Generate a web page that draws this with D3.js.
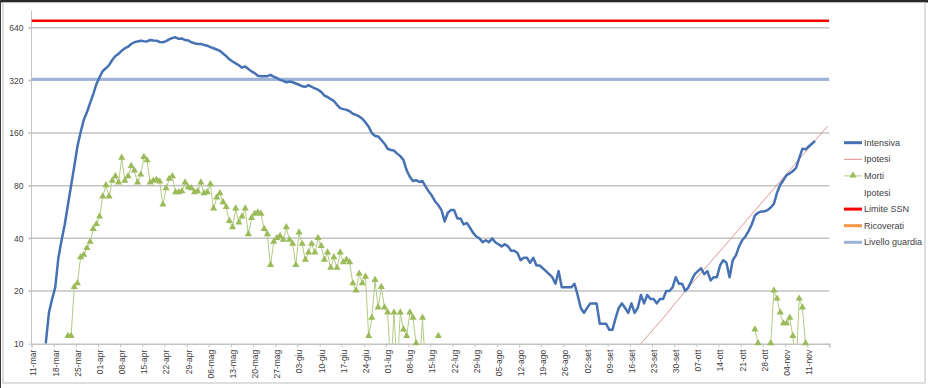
<!DOCTYPE html>
<html>
<head>
<meta charset="utf-8">
<script src="https://cdn.jsdelivr.net/npm/d3@7"></script>
<style>
  body { margin: 0; background: #fff; }
  svg { display: block; font-family: "Liberation Sans", Arial, sans-serif; }
</style>
</head>
<body>
<div id="chart"></div>
<script>
// AXIS RANGE
const axisStart = "2020-03-11";
const axisEnd = "2020-11-18";
const yMin = 10;
const yMax = 800;
const yTicks = [10, 20, 40, 80, 160, 320, 640];
const monthsIt = ["gen", "feb", "mar", "apr", "mag", "giu", "lug", "ago", "set", "ott", "nov", "dic"];

// SERIES (daily values)
const intensivaStart = "2020-03-15";
const intensivaValues = [
  10, 15, 18, 21, 31, 39, 48, 62, 80, 103,
  134, 161, 190, 210, 237, 267, 304, 333, 362, 375,
  391, 418, 441, 453, 473, 488, 498, 516, 528, 534,
  539, 536, 534, 544, 541, 539, 530, 528, 536, 549,
  559, 564, 553, 555, 544, 541, 528, 521, 516, 516,
  510, 505, 495, 488, 480, 472, 456, 440, 422, 410,
  400, 390, 378, 384, 372, 360, 352, 340, 338, 338,
  338, 344, 336, 330, 322, 318, 312, 315, 312, 307,
  302, 296, 294, 300, 294, 288, 283, 275, 262, 257,
  250, 244, 232, 222, 219, 217, 213, 206, 203, 199,
  193, 184, 174, 160, 154, 153, 146, 139, 130, 128,
  127, 122, 118, 112, 98, 90, 85, 86, 84, 85,
  79, 74, 70, 65, 62, 58, 50, 56, 58, 58,
  52, 52, 48, 49, 46, 43, 41, 40, 38, 39,
  38, 40, 38, 37, 36, 37, 36, 34, 34, 33,
  30, 31, 31, 29, 31, 28, 28, 27, 26, 25,
  24, 22, 26, 21, 21, 21, 21, 22, 19, 16,
  15, 16, 17, 17, 17, 13, 13, 13, 12, 12,
  14, 16, 17, 16, 15, 17, 15, 16, 19, 17,
  19, 18, 18, 17, 18, 18, 20, 20, 21, 24,
  22, 22, 20, 21, 23, 25, 26, 27, 25, 26,
  23, 24, 24, 28, 30, 29, 24, 30, 32, 36,
  39, 41, 44, 48, 54, 56, 57, 57, 58, 60,
  63, 73, 81, 86, 92, 94, 97, 101, 115, 130,
  129, 134, 139, 144
];

const mortiSpringStart = "2020-03-22";
const mortiSpringValues = [
  11, 11, 21, 22, 31, 32, 35, 38, 45, 48,
  53, 69, 80, 69, 85, 90, 83, 115, 85, 90,
  103, 97, 83, 92, 116, 111, 83, 85, 86, 84,
  62, 77, 87, 90, 73, 73, 74, 83, 78, 77,
  73, 74, 83, 72, 73, 81, 59, 68, 72, 64,
  60, 50, 46, 59, 49, 53, 59, 42, 52, 55,
  56, 55, 45, 42, 28, 38, 40, 41, 39, 46,
  39, 37, 28, 43, 37, 30, 33, 37, 33, 40,
  36, 30, 33, 27, 31, 27, 33, 29, 30, 29,
  22, 20, 25, 22, 24, 11, 14, 23, 16, 21,
  16, 15, 7, 15, 7, 15, 12, 11, 15, 14,
  10, 7, 14, 7, null, null, null, 11
];

const mortiAutumnStart = "2020-10-25";
const mortiAutumnValues = [12, 10, null, null, null, 10, 20, 18, 15, 13, 13, 14, 11, 7, 18, 16, 10];

const ipotesiDates = ["2020-09-19", "2020-09-26", "2020-10-03", "2020-10-10", "2020-10-17",
  "2020-10-24", "2020-10-31", "2020-11-07", "2020-11-14", "2020-11-17"];
const ipotesiValues = [10, 14, 20, 28, 39, 55, 77, 108, 152, 175];

const limiteSSN = 700;
const livelloGuardia = 325;

const legendLabels = ["Intensiva", "Ipotesi", "Morti", "Ipotesi", "Limite SSN", "Ricoverati", "Livello guardia"];

// COLOURS
const blueClr = "#4672b3";
const ipotesiClr = "#dc8c88";
const mortiClr = "#9bbb59";
const mortiLineClr = "#b2cb84";
const redClr = "#ff0000";
const orangeClr = "#f79646";
const guardiaClr = "#9eb2d8";
const gridClr = "#c3c3c3";
const textClr = "#404040";

const w = 928;
const h = 388;
const plotLeft = 31.5, plotRight = 829.3, plotTop = 10.7, plotBottom = 343.7;

const parse = d3.utcParse("%Y-%m-%d");
const mid = (d) => d3.utcHour.offset(d, 12);

function daily(start, values) {
  const s = parse(start);
  return values.map((v, i) => ({ date: d3.utcDay.offset(s, i), value: v }));
}

const intensiva = daily(intensivaStart, intensivaValues);
const mortiSpring = daily(mortiSpringStart, mortiSpringValues);
const mortiAutumn = daily(mortiAutumnStart, mortiAutumnValues);
const ipotesi = ipotesiDates.map((d, i) => ({ date: parse(d), value: ipotesiValues[i] }));

const xScale = d3.scaleUtc()
  .domain([parse(axisStart), parse(axisEnd)])
  .range([plotLeft, plotRight]);

const yScale = d3.scaleLog()
  .base(2)
  .domain([yMin, yMax])
  .range([plotBottom, plotTop]);

const svg = d3.select("#chart")
  .append("svg")
  .attr("width", w)
  .attr("height", h);

// FRAME
svg.append("rect").attr("x", 0).attr("y", 0).attr("width", w).attr("height", h).attr("fill", "#fff");
svg.append("rect").attr("x", 0).attr("y", 0).attr("width", w).attr("height", 2.5).attr("fill", "#2a2a2a");
svg.append("line").attr("x1", 0.5).attr("x2", 0.5).attr("y1", 0).attr("y2", h).attr("stroke", "#3a3a3a");
svg.append("rect")
  .attr("x", 3).attr("y", 2.5).attr("width", 922).attr("height", 380.5)
  .attr("fill", "none").attr("stroke", "#bdbdbd").attr("stroke-width", 1);

svg.append("clipPath").attr("id", "plot-clip")
  .append("rect")
  .attr("x", plotLeft).attr("y", plotTop)
  .attr("width", plotRight - plotLeft).attr("height", plotBottom - plotTop);

// GRIDLINES
svg.append("g")
  .selectAll("line")
  .data(yTicks.slice(1))
  .enter()
  .append("line")
  .attr("x1", plotLeft - 3).attr("x2", plotRight)
  .attr("y1", (d) => yScale(d)).attr("y2", (d) => yScale(d))
  .attr("stroke", gridClr).attr("stroke-width", 1.5);

// Y AXIS
const yAxis = d3.axisLeft(yScale)
  .tickValues(yTicks)
  .tickSize(3)
  .tickFormat((d) => d);

const yG = svg.append("g")
  .attr("transform", "translate(" + plotLeft + ",0)")
  .call(yAxis);
yG.select(".domain").attr("stroke", gridClr).attr("d", "M0," + plotTop + "V" + plotBottom);
yG.selectAll(".tick line").attr("stroke", gridClr);
yG.selectAll("text").attr("fill", textClr).style("font-size", "8.5px").attr("x", -8);

// X AXIS
const weekTicks = d3.utcDay.range(parse(axisStart), d3.utcDay.offset(parse(axisEnd), 1), 7);
const xAxis = d3.axisBottom(xScale)
  .tickValues(weekTicks)
  .tickSize(3.5)
  .tickFormat((d) => d3.utcFormat("%d")(d) + "-" + monthsIt[d.getUTCMonth()]);

const xG = svg.append("g")
  .attr("transform", "translate(0," + plotBottom + ")")
  .call(xAxis);
xG.select(".domain").attr("stroke", gridClr).attr("stroke-width", 1.5);
xG.selectAll(".tick line").attr("stroke", gridClr);
xG.selectAll("text")
  .attr("fill", textClr)
  .style("font-size", "8.5px")
  .attr("text-anchor", "end")
  .attr("transform", "rotate(-90)")
  .attr("x", -6)
  .attr("y", 1.5)
  .attr("dy", "0.35em")
  .style("display", (d) => (+d === +parse(axisEnd) ? "none" : null));

// REFERENCE LINES
const plot = svg.append("g").attr("clip-path", "url(#plot-clip)");

plot.append("line")
  .attr("x1", plotLeft).attr("x2", plotRight)
  .attr("y1", yScale(livelloGuardia)).attr("y2", yScale(livelloGuardia))
  .attr("stroke", guardiaClr).attr("stroke-width", 3);

plot.append("line")
  .attr("x1", plotLeft).attr("x2", plotRight)
  .attr("y1", yScale(limiteSSN)).attr("y2", yScale(limiteSSN))
  .attr("stroke", redClr).attr("stroke-width", 2.5);

// LINES
const line = d3.line()
  .defined((d) => d.value !== null)
  .x((d) => xScale(mid(d.date)))
  .y((d) => yScale(Math.max(d.value, 1)));

[mortiSpring, mortiAutumn].forEach((series) => {
  plot.append("path")
    .datum(series)
    .attr("fill", "none")
    .attr("stroke", mortiLineClr)
    .attr("stroke-width", 1)
    .attr("d", line);
});

const triangle = d3.symbol().type(d3.symbolTriangle).size(22);
svg.append("g")
  .selectAll("path")
  .data(mortiSpring.concat(mortiAutumn).filter((d) => d.value !== null && d.value >= yMin))
  .enter()
  .append("path")
  .attr("d", triangle)
  .attr("transform", (d) => "translate(" + xScale(mid(d.date)) + "," + (yScale(d.value) - 0.5) + ")")
  .attr("fill", mortiClr);

plot.append("path")
  .datum(ipotesi)
  .attr("fill", "none")
  .attr("stroke", ipotesiClr)
  .attr("stroke-width", 0.9)
  .attr("d", d3.line().x((d) => xScale(mid(d.date))).y((d) => yScale(d.value)));

plot.append("path")
  .datum(intensiva)
  .attr("fill", "none")
  .attr("stroke", blueClr)
  .attr("stroke-width", 2.5)
  .attr("stroke-linejoin", "round")
  .attr("d", line);

// LEGEND
const legendStyles = [
  { stroke: blueClr, width: 3 },
  { stroke: ipotesiClr, width: 1 },
  { stroke: mortiLineClr, width: 1, marker: true },
  { stroke: "none", width: 0 },
  { stroke: redClr, width: 3 },
  { stroke: orangeClr, width: 3 },
  { stroke: guardiaClr, width: 3 }
];

const legend = svg.append("g").attr("id", "legend");
const rows = legend.selectAll("g")
  .data(legendLabels)
  .enter()
  .append("g")
  .attr("transform", (d, i) => "translate(844," + (142.7 + i * 16.6) + ")");

rows.append("line")
  .attr("x1", 0).attr("x2", 18)
  .attr("stroke", (d, i) => legendStyles[i].stroke)
  .attr("stroke-width", (d, i) => legendStyles[i].width);

rows.filter((d, i) => legendStyles[i].marker)
  .append("path")
  .attr("d", triangle)
  .attr("transform", "translate(9,-0.5)")
  .attr("fill", mortiClr);

rows.append("text")
  .attr("x", 20)
  .attr("dy", "0.35em")
  .attr("fill", textClr)
  .style("font-size", "9px")
  .text((d) => d);
</script>
</body>
</html>
